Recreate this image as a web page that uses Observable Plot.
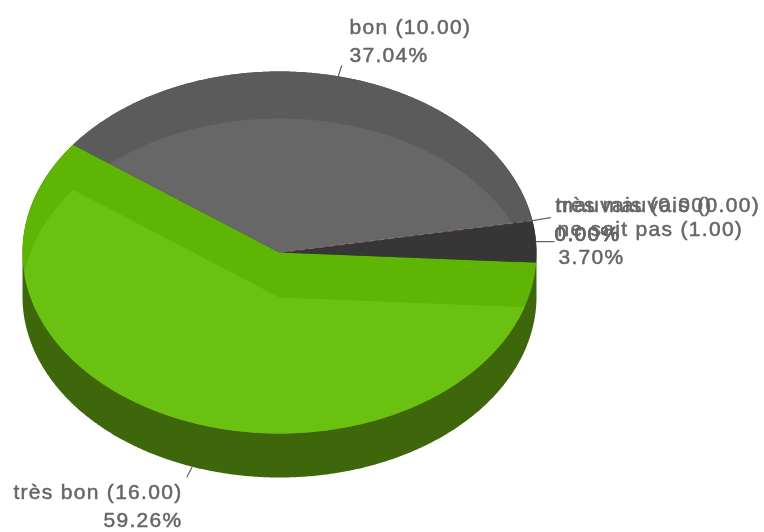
<!DOCTYPE html>
<html><head><meta charset="utf-8">
<script src="https://cdn.jsdelivr.net/npm/d3@7"></script>
<script src="https://cdn.jsdelivr.net/npm/@observablehq/plot@0.6"></script>
<style>html,body{margin:0;padding:0;background:#fff}svg{display:block;filter:blur(0.55px)}</style>
</head><body><div id="chart"></div>
<script>
const categories = ["très bon", "bon", "mauvais", "très mauvais", "ne sait pas"];
const values = [16, 10, 0, 0, 1];
const topDark = ["#5fb504", "#5b5b5b", null, null, "#363636"];
const topLight = ["#6bc111", "#676767", null, null, null];
const sideColor = "#3e660b";
const zeroLine = "#a86c7c";

// Pie geometry, in SVG pixels
const cx = 279, cy = 252, rx = 257, ry = 181, depth = 44, shade = 45, shadeTop = 47;
const startDeg = 3.2;
const total = d3.sum(values);
const rad = d => d * Math.PI / 180;
const at = (deg, ox = 0, oy = 0, k = 1) => [cx + ox + k * rx * Math.cos(rad(deg)), cy + oy + k * ry * Math.sin(rad(deg))];
const arc = (a, b, ox = 0, oy = 0) => {
  const n = Math.max(2, Math.ceil(Math.abs(b - a) * 2));
  return d3.range(n + 1).map(i => at(a + (b - a) * i / n, ox, oy));
};
let acc = startDeg;
const slices = categories.map((c, i) => {
  const a = acc; acc += values[i] / total * 360;
  return {c, i, a, b: acc, mid: (a + acc) / 2, value: values[i]};
});
const sector = (s, oy = 0) => [[cx, cy + oy], ...arc(s.a, s.b, 0, oy)];

// Clip a polygon against a convex polygon wound by increasing angle
function clip(subject, convex) {
  const inside = (p, a, b) => (b[0] - a[0]) * (p[1] - a[1]) - (b[1] - a[1]) * (p[0] - a[0]) >= 0;
  const hit = (p, q, a, b) => {
    const d1 = [q[0] - p[0], q[1] - p[1]], d2 = [b[0] - a[0], b[1] - a[1]];
    const t = ((a[0] - p[0]) * d2[1] - (a[1] - p[1]) * d2[0]) / (d1[0] * d2[1] - d1[1] * d2[0]);
    return [p[0] + t * d1[0], p[1] + t * d1[1]];
  };
  let out = subject;
  convex.forEach((a, i) => {
    const b = convex[(i + 1) % convex.length], inp = out;
    out = [];
    inp.forEach((p, j) => {
      const q = inp[(j + 1) % inp.length];
      const pi = inside(p, a, b), qi = inside(q, a, b);
      if (pi) out.push(p);
      if (pi !== qi) out.push(hit(p, q, a, b));
    });
  });
  return out;
}

const polygons = [];
const add = (key, pts, fill) => pts.forEach(p => polygons.push({key, x: p[0], y: p[1], fill}));
// side wall
add("side", [...arc(0, 180, 0, depth), ...arc(180, 360, 0, 0)], sideColor);
// top slices
slices.filter(s => s.value > 0).forEach(s => add("top" + s.i, sector(s), topDark[s.i]));
// lighter inner regions
const topEllipse = arc(0, 360).slice(0, -1);
const shiftedEllipse = arc(0, 360, 0, shadeTop).slice(0, -1);
add("light0", clip(sector(slices[0], shade), topEllipse), topLight[0]);
add("light1", clip(sector(slices[1]), shiftedEllipse), topLight[1]);

// Zero-valued slices show only as a hairline
const S = Object.fromEntries(slices.map(s => [s.c, s]));
const hair = [[cx, cy], at(S["mauvais"].a)].map(p => ({x: p[0], y: p[1]}));

// Labels and leader lines
const fmt = s => `${s.c} (${s.value.toFixed(2)})`;
const pct = s => (s.value / total * 100).toFixed(2) + "%";
const leaders = [
  [at(S["bon"].mid), at(S["bon"].mid, 0, 0, 1.06)],
  [at(S["très bon"].mid, 0, depth), at(S["très bon"].mid, 0, depth, 1.06)],
  [at(S["mauvais"].a), [at(S["mauvais"].a)[0] + 18, at(S["mauvais"].a)[1] - 3]],
  [at(S["ne sait pas"].mid), [at(S["ne sait pas"].mid)[0] + 18, at(S["ne sait pas"].mid)[1]]]
].flatMap((l, k) => l.map(p => ({k, x: p[0], y: p[1]})));

const labels = [
  {s: S["bon"], x: 349, y: 33, anchor: "start"},
  {s: S["très bon"], x: 182, y: 498, anchor: "end"},
  {s: S["très mauvais"], x: 555, y: 211, anchor: "start"},
  {s: S["mauvais"], x: 555, y: 211, anchor: "start"},
  {s: S["ne sait pas"], x: 557, y: 235, anchor: "start"}
];
const lines = labels.flatMap(l => [
  {text: fmt(l.s), x: l.x, y: l.y, anchor: l.anchor},
  {text: pct(l.s), x: l.x + (l.anchor === "start" ? (l.s.c === "ne sait pas" ? 1 : l.s.value === 0 ? -1 : 0) : 0), y: l.y + (l.s.value === 0 ? 29 : 28), anchor: l.anchor}
]);
const textMark = anchor => Plot.text(lines.filter(d => d.anchor === anchor), {
  x: "x", y: "y", text: "text", textAnchor: anchor, lineAnchor: "bottom",
  fill: "#666666", stroke: "#666666", strokeWidth: 0.5, fontSize: 21,
  fontFamily: "Liberation Sans, Arial, sans-serif"
});

const chart = Plot.plot({
  width: 764, height: 532, margin: 0,
  style: {letterSpacing: "1.3px"},
  x: {domain: [0, 764], range: [0, 764], axis: null},
  y: {domain: [0, 532], range: [0, 532], axis: null},
  marks: [
    Plot.line(polygons, {x: "x", y: "y", z: "key", fill: "fill", stroke: null, curve: "linear-closed"}),
    Plot.line(hair, {x: "x", y: "y", stroke: zeroLine, strokeWidth: 0.8, strokeDasharray: "5,5"}),
    Plot.line(leaders, {x: "x", y: "y", z: "k", stroke: "#666666", strokeWidth: 1.2}),
    textMark("start"),
    textMark("end")
  ]
});
document.getElementById("chart").append(chart);
</script></body></html>
